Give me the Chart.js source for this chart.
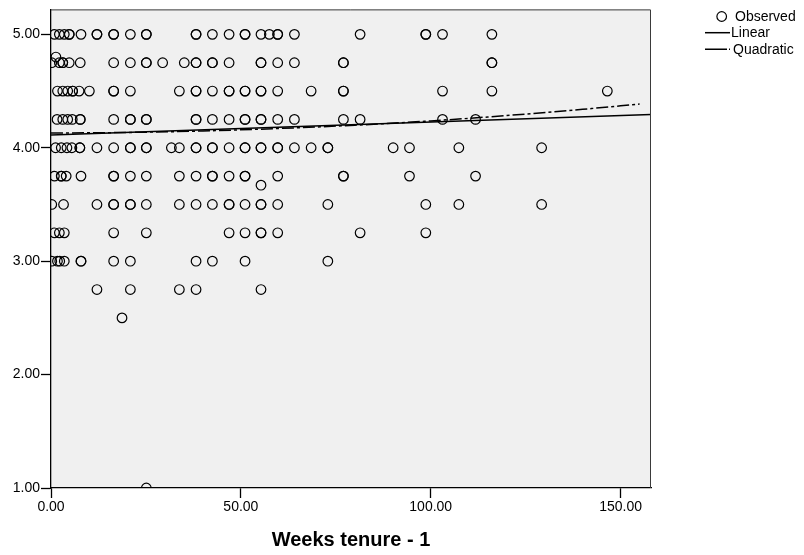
<!DOCTYPE html>
<html>
<head>
<meta charset="utf-8">
<script src="https://cdn.jsdelivr.net/npm/chart.js@4/dist/chart.umd.min.js"></script>
<style>
  body { margin: 0; background: #fff; }
  #wrap { width: 804px; height: 555px; }
</style>
</head>
<body>
<div id="wrap"><canvas id="tenure-chart"></canvas></div>
<script>
// Observed scores, grouped by score level (x = weeks tenure - 1).
// Repeated values are separate respondents at the same point.
const level500 = [0.9, 2.2, 3.5, 4.8, 4.8, 7.9, 12.1, 12.1, 16.5, 16.5, 20.9, 25.1, 25.1, 38.2, 38.2, 42.5, 46.9, 51.1, 51.1, 55.3, 57.5, 59.7, 59.7, 64.1, 81.4, 98.7, 98.7, 103.1, 116.1];
const level475 = [0.2, 2.2, 3.1, 3.1, 4.8, 7.7, 16.5, 20.9, 25.1, 25.1, 29.4, 35.1, 38.2, 38.2, 42.5, 42.5, 46.9, 55.3, 55.3, 59.7, 64.1, 77.0, 77.0, 116.1, 116.1];
const level450 = [1.7, 3.1, 4.4, 5.7, 5.7, 7.4, 10.1, 16.5, 16.5, 20.9, 33.8, 38.2, 38.2, 42.5, 46.9, 46.9, 51.1, 51.1, 55.3, 55.3, 59.7, 68.5, 77.0, 77.0, 103.1, 116.1, 146.5];
const level425 = [1.6, 3.1, 4.4, 5.6, 7.7, 7.7, 16.5, 20.9, 20.9, 25.1, 25.1, 38.2, 38.2, 42.5, 46.9, 51.1, 51.1, 55.3, 55.3, 59.7, 64.1, 77.0, 81.4, 103.1, 111.8];
const level400 = [1.2, 2.7, 4.2, 5.5, 7.6, 7.6, 12.1, 16.5, 20.9, 20.9, 25.1, 25.1, 31.7, 33.8, 38.2, 38.2, 42.5, 42.5, 46.9, 51.1, 51.1, 55.3, 55.3, 59.7, 59.7, 64.1, 68.5, 72.9, 72.9, 90.1, 94.4, 107.4, 129.2];
const level375 = [0.9, 2.7, 2.7, 4.0, 7.9, 16.5, 16.5, 20.9, 25.1, 33.8, 38.2, 42.5, 42.5, 46.9, 51.1, 51.1, 59.7, 77.0, 77.0, 94.4, 111.8];
const level350 = [0.2, 3.3, 12.1, 16.5, 16.5, 20.9, 20.9, 25.1, 33.8, 38.2, 42.5, 46.9, 46.9, 51.1, 55.3, 55.3, 59.7, 72.9, 98.7, 107.4, 129.2];
const level325 = [0.9, 2.2, 3.5, 16.5, 25.1, 46.9, 51.1, 55.3, 55.3, 59.7, 81.4, 98.7];
const level300 = [0.2, 1.7, 2.3, 3.5, 7.9, 7.9, 16.5, 20.9, 38.2, 42.5, 51.1, 72.9];
const level275 = [12.1, 20.9, 33.8, 38.2, 55.3];
const level250 = [18.7];
const level100 = [25.1];

// a couple of respondents off the quarter-point grid
const oddX = [1.3, 55.3];
const oddY = [4.8, 3.67];

// fitted curves, read at a few tenure values
const linearX = [0, 158];
const linearY = [4.113, 4.293];
const quadX = [0, 20, 40, 60, 80, 100, 120, 140, 155];
const quadY = [4.130, 4.135, 4.148, 4.170, 4.199, 4.237, 4.284, 4.339, 4.385];

const xTicks = [0, 50, 100, 150];
const yTicks = [1, 2, 3, 4, 5];

const levels = [
    [5.00, level500], [4.75, level475], [4.50, level450], [4.25, level425],
    [4.00, level400], [3.75, level375], [3.50, level350], [3.25, level325],
    [3.00, level300], [2.75, level275], [2.50, level250], [1.00, level100]
];

const observed = [];
levels.forEach(([y, xs]) => xs.forEach(x => observed.push({ x, y })));
oddX.forEach((x, i) => observed.push({ x, y: oddY[i] }));

const toPoints = (xs, ys) => xs.map((x, i) => ({ x, y: ys[i] }));

const FONT = "'Liberation Sans', Arial, sans-serif";
const QUAD_DASH = [12, 3, 3, 3];
const MARKER_R = 4.8;

// grey plot panel with a thin frame on top and right
const plotFrame = {
    id: 'plotFrame',
    beforeDraw(chart) {
        const { ctx, chartArea: a } = chart;
        ctx.save();
        ctx.fillStyle = '#f0f0f0';
        ctx.fillRect(a.left, a.top, a.right - a.left, a.bottom - a.top);
        ctx.restore();
    },
    afterDraw(chart) {
        const { ctx, chartArea: a } = chart;
        ctx.save();
        ctx.strokeStyle = '#3a3a3a';
        ctx.lineWidth = 1;
        ctx.beginPath();
        ctx.moveTo(a.left, a.top + 0.5);
        ctx.lineTo(a.right - 0.5, a.top + 0.5);
        ctx.lineTo(a.right - 0.5, a.bottom);
        ctx.stroke();
        ctx.restore();
    }
};

// legend stacked to the right of the plot panel
const sideLegend = {
    id: 'sideLegend',
    afterDraw(chart) {
        const { ctx } = chart;
        const rows = [
            { y: 16.5, textX: 735 },
            { y: 32.7, textX: 731 },
            { y: 49.3, textX: 733 }
        ];
        ctx.save();
        ctx.font = '14px ' + FONT;
        ctx.fillStyle = '#000';
        ctx.textBaseline = 'middle';
        chart.data.datasets.forEach((ds, i) => {
            const r = rows[i];
            ctx.strokeStyle = '#000';
            if (i === 0) {
                ctx.lineWidth = 1.2;
                ctx.beginPath();
                ctx.arc(721.7, r.y, MARKER_R, 0, Math.PI * 2);
                ctx.stroke();
            } else {
                ctx.lineWidth = 1.5;
                ctx.setLineDash(i === 2 ? [22, 2, 2, 2] : []);
                ctx.beginPath();
                ctx.moveTo(705, r.y);
                ctx.lineTo(730, r.y);
                ctx.stroke();
                ctx.setLineDash([]);
            }
            ctx.fillText(ds.label, r.textX, r.y + 0.5);
        });
        ctx.restore();
    }
};

const axisTicks = (min, max, values) => ({
    type: 'linear',
    min,
    max,
    afterBuildTicks: scale => { scale.ticks = values.map(value => ({ value })); },
    ticks: {
        callback: v => Number(v).toFixed(2),
        color: '#000',
        font: { family: FONT, size: 14 },
        padding: 1,
        maxRotation: 0,
        autoSkip: false
    },
    grid: {
        drawOnChartArea: false,
        drawTicks: true,
        tickLength: 10,
        tickColor: '#000',
        tickWidth: 1.3
    },
    border: { display: true, color: '#000', width: 1.3 }
});

const xScale = axisTicks(0, 158, xTicks);
xScale.position = 'bottom';
xScale.title = {
    display: true,
    text: 'Weeks tenure - 1',
    color: '#000',
    font: { family: FONT, size: 20, weight: 'bold' },
    padding: { top: 0, bottom: 3 }
};
xScale.afterFit = s => { s.height = 67; };

const yScale = axisTicks(1, 5.22, yTicks);
yScale.position = 'left';
yScale.afterFit = s => { s.width = 51; };

new Chart(document.getElementById('tenure-chart'), {
    type: 'scatter',
    data: {
        datasets: [
            {
                label: 'Observed',
                data: observed,
                pointStyle: 'circle',
                pointRadius: MARKER_R,
                pointBorderWidth: 1.2,
                pointBorderColor: '#000',
                pointBackgroundColor: 'rgba(0,0,0,0)',
                showLine: false,
                order: 3
            },
            {
                label: 'Linear',
                data: toPoints(linearX, linearY),
                showLine: true,
                borderColor: '#000',
                borderWidth: 1.5,
                pointRadius: 0,
                order: 1
            },
            {
                label: 'Quadratic',
                data: toPoints(quadX, quadY),
                showLine: true,
                borderColor: '#000',
                borderWidth: 1.5,
                borderDash: QUAD_DASH,
                cubicInterpolationMode: 'monotone',
                pointRadius: 0,
                order: 2
            }
        ]
    },
    options: {
        responsive: true,
        maintainAspectRatio: false,
        animation: false,
        events: [],
        layout: { padding: { left: 0, right: 153, top: 7, bottom: 0 } },
        scales: { x: xScale, y: yScale },
        plugins: {
            legend: { display: false },
            tooltip: { enabled: false }
        }
    },
    plugins: [plotFrame, sideLegend]
});
</script>
</body>
</html>
